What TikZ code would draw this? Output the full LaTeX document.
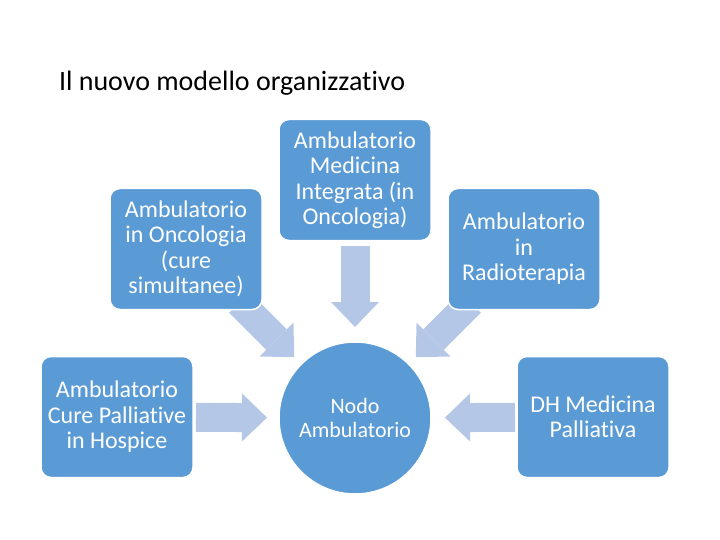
\documentclass[tikz,border=0pt]{standalone}
\usepackage{fontspec}
\setmainfont{Carlito}[Ligatures=NoCommon]
\usepackage{tikz}
\usetikzlibrary{arrows.meta,backgrounds}
\definecolor{NodoBlue}{HTML}{5B9BD5}
\definecolor{NodoArrow}{HTML}{B4C7E7}

\begin{document}
\begin{tikzpicture}[
    x=1pt, y=-1pt,
    ambbox/.style={
      draw=white,
      fill=NodoBlue,
      line width=1.5pt,
      rounded corners=10pt,
      minimum width=152pt,
      minimum height=121pt,
      inner sep=0pt,
      outer sep=0pt,
      align=center,
      text=white,
      font=\fontsize{24}{25.5}\selectfont
    },
    ambcircle/.style={
      circle,
      draw=white,
      fill=NodoBlue,
      line width=1.5pt,
      minimum size=152pt,
      inner sep=0pt,
      outer sep=0pt,
      align=center,
      text=white,
      font=\fontsize{22}{24}\selectfont
    },
    flowarrow/.style={
      -{Triangle[length=25pt,width=48pt,line width=0pt]},
      line width=29pt,
      NodoArrow
    }
  ]
  \useasboundingbox (0,0) rectangle (720,540);

  \node[anchor=base west, font=\fontsize{28}{30}\selectfont] (title) at (55.5,91)
    {Il nuovo modello organizzativo};

  \node[ambbox] (onco) at (186,249) {Ambulatorio\\in Oncologia\\(cure\\simultanee)};
  \node[ambbox] (integ) at (355,180) {Ambulatorio\\Medicina\\Integrata (in\\Oncologia)};
  \node[ambbox] (radio) at (524,249) {Ambulatorio\\in\\Radioterapia};
  \node[ambbox] (hospice) at (117,417) {Ambulatorio\\Cure Palliative\\in Hospice};
  \node[ambcircle] (nodo) at (355,418) {Nodo\\Ambulatorio};
  \node[ambbox] (dh) at (593,417) {DH Medicina\\Palliativa};

  \begin{scope}[on background layer]
    \draw[flowarrow, shorten <=5pt, shorten >=15pt] (integ) -- (nodo);
    \draw[flowarrow, shorten <=-10pt, shorten >=10pt] (onco) -- (nodo);
    \draw[flowarrow, shorten <=-10pt, shorten >=10pt] (radio) -- (nodo);
    \draw[flowarrow, shorten <=3pt, shorten >=12pt] (hospice) -- (nodo);
    \draw[flowarrow, shorten <=2pt, shorten >=14pt] (dh) -- (nodo);
  \end{scope}

\end{tikzpicture}
\end{document}
